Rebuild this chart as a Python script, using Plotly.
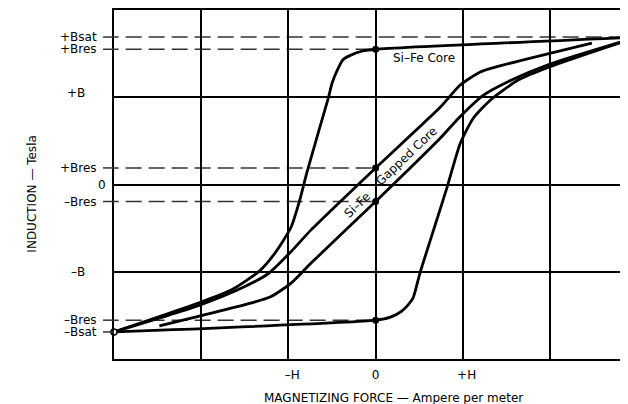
import plotly.graph_objects as go

# H and B in grid units (one grid square = one unit)
sife_down_h = [3.0, 0.0, -0.15, -0.29, -0.375, -0.43, -0.50, -0.54, -0.65, -0.79, -0.87, -0.97, -1.15, -1.33, -1.64, -2.01, -3.0]
sife_down_b = [1.69, 1.55, 1.53, 1.48, 1.43, 1.33, 1.16, 1.00, 0.62, 0.13, -0.18, -0.49, -0.78, -0.99, -1.20, -1.35, -1.69]
sife_up_h = [-3.0, 0.0, 0.17, 0.30, 0.38, 0.43, 0.51, 0.70, 0.82, 0.97, 1.12, 1.33, 1.64, 2.00, 3.0]
sife_up_b = [-1.69, -1.555, -1.52, -1.45, -1.37, -1.30, -1.01, -0.41, -0.03, 0.47, 0.76, 0.98, 1.20, 1.35, 1.69]

gap_down_h = [2.48, 1.39, 1.20, 0.97, 0.74, 0.0, -0.74, -0.98, -1.23, -1.50, -2.01, -3.0]
gap_down_b = [1.62, 1.35, 1.29, 1.14, 0.885, 0.19, -0.52, -0.78, -1.02, -1.17, -1.38, -1.69]
gap_up_h = [-2.48, -1.40, -1.21, -0.98, -0.74, 0.0, 0.74, 0.97, 1.23, 1.50, 2.00, 3.0]
gap_up_b = [-1.62, -1.35, -1.29, -1.14, -0.90, -0.195, 0.53, 0.78, 1.02, 1.17, 1.38, 1.69]

# residual points on the B axis
res_b = [1.55, 0.19, -0.195, -1.555]

# reference levels
level_names = ["+Bsat", "+Bres", "+Bres", "–Bres", "–Bres", "–Bsat"]
level_b = [1.69, 1.55, 0.19, -0.195, -1.555, -1.69]
level_end_h = [3.0, 0.0, 0.0, 0.0, 0.0, -3.0]

x_ticks = [-2, -1, 0, 1, 2]
x_ticktext = ["", "\u00a0\u00a0–H", "0", "\u00a0\u00a0+H", ""]

font = "DejaVu Sans"

fig = go.Figure()

for b, e in zip(level_b, level_end_h):
    fig.add_shape(type="line", xref="paper", yref="y", x0=-0.0214, x1=0, y0=b, y1=b,
                  line=dict(color="#333", width=1.5))
    if e > -3:
        fig.add_shape(type="line", xref="x", yref="y", x0=-3.13, x1=e, y0=b, y1=b,
                      line=dict(color="#333", width=1.5, dash="16px,7px"), layer="below")

curve = dict(color="black", width=2.8)
for hx, by in [(sife_down_h, sife_down_b), (sife_up_h, sife_up_b),
               (gap_down_h, gap_down_b), (gap_up_h, gap_up_b)]:
    fig.add_trace(go.Scatter(x=hx, y=by, mode="lines", line=curve,
                             line_shape="spline", line_smoothing=0.6,
                             hoverinfo="skip", showlegend=False))

fig.add_trace(go.Scatter(x=[0] * len(res_b), y=res_b, mode="markers",
                         marker=dict(color="black", size=7), showlegend=False))
fig.add_trace(go.Scatter(x=[-3.0, 3.0], y=[-1.69, 1.69], mode="markers", cliponaxis=False,
                         marker=dict(color="white", size=6, line=dict(color="black", width=1.5)),
                         showlegend=False))

# y labels
for name, b in zip(level_names, level_b):
    fig.add_annotation(xref="paper", yref="y", x=-0.029, y=b, text=name, showarrow=False,
                       xanchor="right", yanchor="middle", font=dict(size=12))
fig.add_annotation(xref="paper", yref="y", x=-0.052, y=1.0, yshift=4, text="+B", showarrow=False,
                   xanchor="right", yanchor="middle", font=dict(size=12))
fig.add_annotation(xref="paper", yref="y", x=-0.012, y=0.0, text="0", showarrow=False,
                   xanchor="right", yanchor="middle", font=dict(size=12))
fig.add_annotation(xref="paper", yref="y", x=-0.052, y=-1.0, text="–B", showarrow=False,
                   xanchor="right", yanchor="middle", font=dict(size=12))

fig.add_annotation(x=0.55, y=1.45, text="Si–Fe Core", showarrow=False, font=dict(size=12))
fig.add_annotation(x=-0.21, y=-0.235, text="Si–Fe", showarrow=False,
                   textangle=-43.4, font=dict(size=12))
fig.add_annotation(x=0.353, y=0.33, text="Gapped Core", showarrow=False,
                   textangle=-43.4, font=dict(size=12))

fig.add_annotation(xref="paper", yref="paper", x=0.543, y=-0.112, text="MAGNETIZING FORCE — Ampere per meter",
                   showarrow=False, xanchor="center", yanchor="middle", font=dict(size=12))
fig.add_annotation(xref="paper", yref="paper", x=-0.1595, y=0.471, text="INDUCTION — Tesla",
                   showarrow=False, textangle=-90, xanchor="center", yanchor="middle", font=dict(size=12))

fig.update_xaxes(range=[-3, 2.894], tickvals=x_ticks, ticktext=x_ticktext,
                 showgrid=True, gridcolor="black", gridwidth=2, zeroline=False,
                 showline=True, linecolor="black", linewidth=2, mirror=True,
                 ticks="outside", ticklen=4, tickcolor="rgba(0,0,0,0)",
                 tickfont=dict(size=12, color="black"), fixedrange=True)
fig.update_yaxes(range=[-2, 2], tickvals=[-1, 0, 1], showticklabels=False,
                 showgrid=True, gridcolor="black", gridwidth=2, zeroline=False,
                 showline=True, linecolor="black", linewidth=2, mirror=False, fixedrange=True)

# the page body adds 8px, so the figure is 8px smaller on each offset side
fig.update_layout(width=620, height=396, margin=dict(l=106, r=0, t=2, b=45),
                  paper_bgcolor="white", plot_bgcolor="white",
                  font=dict(family=font, color="black", size=12), showlegend=False)

fig.write_html("out.html")
